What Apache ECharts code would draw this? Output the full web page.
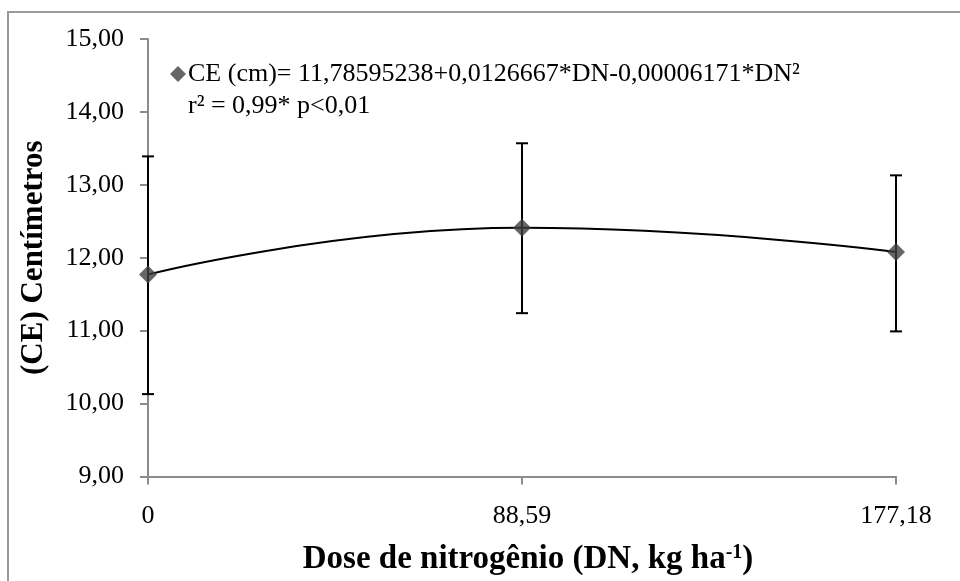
<!DOCTYPE html>
<html><head><meta charset="utf-8">
<script src="https://cdn.jsdelivr.net/npm/echarts@6/dist/echarts.min.js"></script>
<style>html,body{margin:0;padding:0;background:#fff}#c{width:960px;height:581px}</style>
</head><body><div id="c"></div>
<script>
const doses = [0, 88.59, 177.18];
const means = [11.77, 12.41, 12.08];
const errLow = [10.13, 11.24, 10.99];
const errHigh = [13.39, 13.57, 13.13];
const legendLine1 = 'CE (cm)= 11,78595238+0,0126667*DN-0,00006171*DN²';
const legendLine2 = 'r² = 0,99* p<0,01';
const yTickLabels = ['9,00','10,00','11,00','12,00','13,00','14,00','15,00'];
const xTickLabels = ['0','88,59','177,18'];

const FONT = '"Liberation Serif", "Times New Roman", serif';
const axisGray = '#8c8c8c';

const chart = echarts.init(document.getElementById('c'), null, {renderer: 'canvas'});
const points = doses.map((d, i) => [d, means[i]]);
const bars = doses.map((d, i) => [d, errLow[i], errHigh[i]]);

chart.setOption({
  animation: false,
  backgroundColor: '#fff',
  grid: {left: 148, top: 39, width: 748, height: 442, containLabel: false},
  legend: {
    show: true, left: 165, top: 56, itemWidth: 16, itemHeight: 16, itemGap: 0,
    data: [{name: legendLine1, icon: 'diamond'}],
    textStyle: {fontFamily: FONT, fontSize: 26, color: '#000', padding: [0,0,0,-3]}
  },
  graphic: [
    {type: 'rect', shape: {x: 8, y: 12, width: 1000, height: 1000}, style: {fill: 'none', stroke: '#9a9a9a', lineWidth: 2}, z: -1},
    {type: 'text', left: 188, top: 93, style: {text: legendLine2, font: '26px ' + FONT, fill: '#000'}}
  ],
  xAxis: {
    type: 'value', min: 0, max: 177.18, interval: 88.59,
    name: '{b|Dose de nitrogênio (DN, kg ha}{s|-1}{b|)}',
    nameLocation: 'middle', nameGap: 66,
    nameTextStyle: {padding: [0,0,0,12], rich: {
      b: {fontFamily: FONT, fontSize: 33, fontWeight: 'bold', color: '#000'},
      s: {fontFamily: FONT, fontSize: 20, fontWeight: 'bold', color: '#000', padding: [0,0,14,0]}
    }},
    axisLine: {show: true, lineStyle: {color: axisGray, width: 2}},
    axisTick: {show: true, inside: false, length: 8, lineStyle: {color: axisGray, width: 2}},
    axisLabel: {margin: 27, fontFamily: FONT, fontSize: 26, color: '#000',
      formatter: (v) => { const i = doses.findIndex(d => Math.abs(d - v) < 0.01); return i >= 0 ? xTickLabels[i] : ''; }},
    splitLine: {show: false}
  },
  yAxis: {
    type: 'value', min: 9, max: 15, interval: 1,
    name: '(CE) Centímetros', nameLocation: 'middle', nameGap: 99, nameRotate: 90,
    nameTextStyle: {fontFamily: FONT, fontSize: 31, fontWeight: 'bold', color: '#000'},
    axisLine: {show: true, lineStyle: {color: axisGray, width: 2}},
    axisTick: {show: true, inside: false, length: 8, lineStyle: {color: axisGray, width: 2}},
    axisLabel: {margin: 24, fontFamily: FONT, fontSize: 26, color: '#000',
      formatter: (v) => yTickLabels[Math.round(v - 9)]},
    splitLine: {show: false}
  },
  series: [
    {
      name: 'trend', type: 'line', data: points, smooth: 0.5, showSymbol: false,
      lineStyle: {color: '#000', width: 2}, z: 2, silent: true
    },
    {
      name: 'err', type: 'custom', data: bars, z: 3,
      renderItem: (params, api) => {
        const x = api.value(0);
        const lo = api.coord([x, api.value(1)]);
        const hi = api.coord([x, api.value(2)]);
        const w = 6;
        const st = {stroke: '#000', lineWidth: 2};
        return {type: 'group', children: [
          {type: 'line', shape: {x1: lo[0], y1: lo[1], x2: hi[0], y2: hi[1]}, style: st},
          {type: 'line', shape: {x1: lo[0]-w, y1: lo[1], x2: lo[0]+w, y2: lo[1]}, style: st},
          {type: 'line', shape: {x1: hi[0]-w, y1: hi[1], x2: hi[0]+w, y2: hi[1]}, style: st}
        ]};
      }
    },
    {
      name: legendLine1, type: 'scatter', data: points, symbol: 'diamond', symbolSize: 18,
      itemStyle: {color: '#404040'}, z: 4
    }
  ]
});
</script></body></html>
